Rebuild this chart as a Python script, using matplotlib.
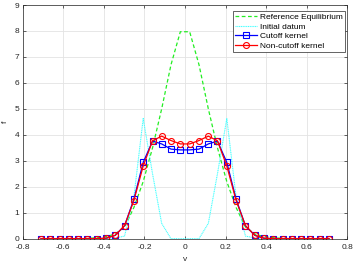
import matplotlib
matplotlib.use("Agg")
import matplotlib.pyplot as plt

v = [-0.710, -0.664, -0.618, -0.573, -0.527, -0.481, -0.435, -0.389,
     -0.344, -0.298, -0.252, -0.206, -0.160, -0.115, -0.069, -0.023,
     0.023, 0.069, 0.115, 0.160, 0.206, 0.252, 0.298, 0.344,
     0.389, 0.435, 0.481, 0.527, 0.573, 0.618, 0.664, 0.710]

f_eq = [0, 0, 0, 0, 0, 0.01, 0.04, 0.08, 0.18, 0.45, 1.2, 2.2, 3.5, 5.0, 6.7, 7.97,
        7.97, 6.7, 5.0, 3.5, 2.2, 1.2, 0.45, 0.18, 0.08, 0.04, 0.01, 0, 0, 0, 0, 0]

f_init = [0, 0, 0, 0, 0, 0, 0, 0, 0.03, 0.1, 1.6, 4.63, 2.5, 0.59, 0, 0,
          0, 0, 0.59, 2.5, 4.63, 1.6, 0.1, 0.03, 0, 0, 0, 0, 0, 0, 0, 0]

f_cut = [0, 0, 0, 0, 0, 0, 0, 0.02, 0.13, 0.5, 1.52, 2.94, 3.76, 3.65, 3.45, 3.42,
         3.42, 3.45, 3.65, 3.76, 2.94, 1.52, 0.5, 0.13, 0.02, 0, 0, 0, 0, 0, 0, 0]

f_noncut = [0, 0, 0, 0, 0, 0, 0, 0.02, 0.13, 0.5, 1.47, 2.8, 3.77, 3.95, 3.78, 3.65,
            3.65, 3.78, 3.95, 3.77, 2.8, 1.47, 0.5, 0.13, 0.02, 0, 0, 0, 0, 0, 0, 0]

labels = ["Reference Equilibrium", "Initial datum", "Cutoff kernel", "Non-cutoff kernel"]
xticks = [-0.8, -0.6, -0.4, -0.2, 0, 0.2, 0.4, 0.6, 0.8]
yticks = [0, 1, 2, 3, 4, 5, 6, 7, 8, 9]

plt.rcParams['font.family'] = ['Liberation Sans', 'DejaVu Sans']
plt.rcParams['font.size'] = 6.0

fig = plt.figure(figsize=(3.54, 2.66), dpi=100)
ax = fig.add_axes([0.0641, 0.1026, 0.917, 0.8786])

ax.plot(v, f_eq, color='#22ee22', linestyle=(0, (3, 2)), linewidth=0.9, label=labels[0])
ax.plot(v, f_init, color='#44ffff', linestyle=(0, (1, 0.6)), linewidth=0.8, label=labels[1])
ax.plot(v, f_cut, color='#0000ff', linewidth=0.9, marker='s', markersize=3.8,
        markerfacecolor='none', markeredgewidth=0.8, label=labels[2])
ax.plot(v, f_noncut, color='#ff0000', linewidth=0.9, marker='o', markersize=4.3,
        markerfacecolor='none', markeredgewidth=0.8, label=labels[3])

ax.set_xlim(-0.8, 0.8)
ax.set_ylim(0, 9)
ax.set_xticks(xticks)
ax.set_xticklabels([f"{t:g}" for t in xticks])
ax.set_yticks(yticks)
ax.grid(True, color='#e3e3e3', linewidth=0.6)
ax.set_axisbelow(True)
ax.tick_params(axis='x', pad=3.5)
ax.tick_params(axis='y', pad=2.5)
ax.tick_params(direction='in', length=2.5, width=0.5, top=True, right=True,
               colors='#262626', labelcolor='#262626')
for s in ax.spines.values():
    s.set_linewidth(0.5)
    s.set_color('#262626')
ax.set_xlabel('v', labelpad=4, color='#262626')
ax.set_ylabel('f', labelpad=4, color='#262626')

leg = ax.legend(loc='upper right', bbox_to_anchor=(0.993, 0.975), fancybox=False,
                framealpha=1, edgecolor='#262626', handlelength=2.6,
                borderpad=0.3, labelspacing=0.2, handletextpad=0.3,
                borderaxespad=0.0)
leg.get_frame().set_linewidth(0.5)

fig.savefig('out.png', dpi=100)
